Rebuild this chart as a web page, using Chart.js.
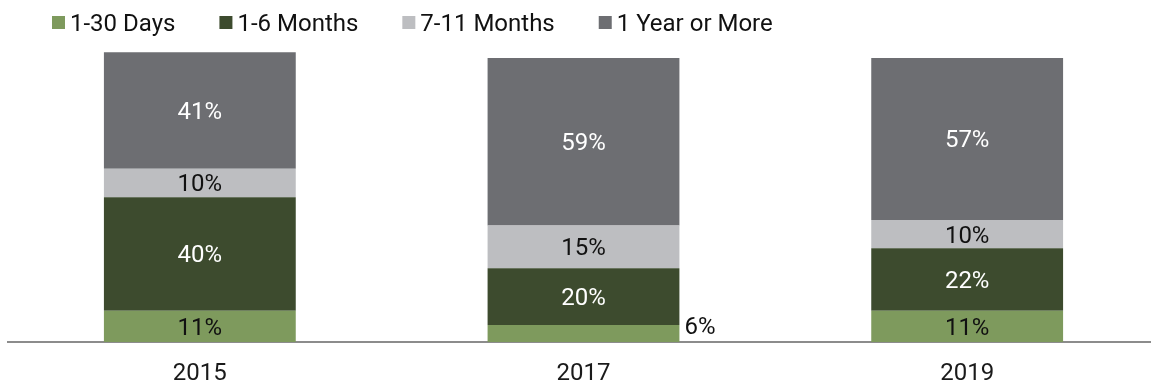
<!DOCTYPE html>
<html>
<head>
<meta charset="utf-8">
<script src="https://cdn.jsdelivr.net/npm/chart.js@4/dist/chart.umd.min.js"></script>
<style>
  html, body { margin: 0; padding: 0; background: #fff; overflow: hidden; }
  #wrap { width: 1151px; height: 385px; overflow: hidden; }
  canvas { display: block; }
</style>
</head>
<body>
<div id="wrap"><canvas id="chart" width="1160" height="385"></canvas></div>
<script>
// Duration shares by survey year (percent)
const years = ['2015', '2017', '2019'];
const days1to30 = [11, 6, 11];
const months1to6 = [40, 20, 22];
const months7to11 = [10, 15, 10];
const yearOrMore = [41, 59, 57];

const seriesNames = ['1-30 Days', '1-6 Months', '7-11 Months', '1 Year or More'];
const seriesColors = ['#7e9a5d', '#3d4b2e', '#bdbec1', '#6d6e72'];
const labelColors = ['#111111', '#ffffff', '#111111', '#ffffff'];
const seriesValues = [days1to30, months1to6, months7to11, yearOrMore];

const FONT = 'Roboto, "Liberation Sans", Arial, sans-serif';
const FONT_SIZE = 24;

// Percent labels centred in each segment; short segments get the label to the right
const segmentLabels = {
  id: 'segmentLabels',
  afterDatasetsDraw(chart) {
    const ctx = chart.ctx;
    ctx.save();
    ctx.font = `${FONT_SIZE}px ${FONT}`;
    ctx.textBaseline = 'middle';
    chart.data.datasets.forEach((ds, di) => {
      const meta = chart.getDatasetMeta(di);
      meta.data.forEach((bar, i) => {
        const v = ds.data[i];
        const text = v + '%';
        const top = Math.min(bar.y, bar.base);
        const bottom = Math.max(bar.y, bar.base);
        const h = bottom - top;
        const cy = (top + bottom) / 2;
        if (h < 20) {
          ctx.fillStyle = '#111111';
          ctx.textAlign = 'left';
          ctx.fillText(text, bar.x + bar.width / 2 + 5, cy - 5);
        } else {
          ctx.fillStyle = labelColors[di];
          ctx.textAlign = 'center';
          ctx.fillText(text, bar.x, cy + 2.5);
        }
      });
    });
    ctx.restore();
  }
};

// Row of square swatches with series names across the top
const topLegend = {
  id: 'topLegend',
  afterDraw(chart) {
    const ctx = chart.ctx;
    ctx.save();
    ctx.font = `${FONT_SIZE}px ${FONT}`;
    ctx.textBaseline = 'middle';
    ctx.textAlign = 'left';
    let x = 52;
    const cy = 22;
    chart.data.datasets.forEach((ds) => {
      ctx.fillStyle = ds.backgroundColor;
      ctx.fillRect(x, cy - 6, 13, 13);
      ctx.fillStyle = '#111111';
      ctx.fillText(ds.label, x + 18, cy + 2.5);
      x += 18 + ctx.measureText(ds.label).width + 44;
    });
    ctx.restore();
  }
};

new Chart(document.getElementById('chart'), {
  type: 'bar',
  data: {
    labels: years,
    datasets: seriesNames.map((name, i) => ({
      label: name,
      data: seriesValues[i],
      backgroundColor: seriesColors[i],
      borderWidth: 0,
      categoryPercentage: 1,
      barPercentage: 0.5,
      clip: false
    }))
  },
  options: {
    responsive: false,
    animation: false,
    layout: { padding: { top: 58, left: 8, right: 1, bottom: 0 } },
    plugins: {
      legend: { display: false },
      tooltip: { enabled: false }
    },
    scales: {
      x: {
        stacked: true,
        grid: { display: false, drawTicks: false },
        border: { display: true, color: '#8c8c8c', width: 2 },
        ticks: { color: '#1a1a1a', font: { family: FONT, size: FONT_SIZE }, padding: 18 },
        afterFit(scale) { scale.height = 43; }
      },
      y: {
        stacked: true,
        display: false,
        min: 0,
        max: 100
      }
    }
  },
  plugins: [segmentLabels, topLegend]
});
</script>
</body>
</html>
